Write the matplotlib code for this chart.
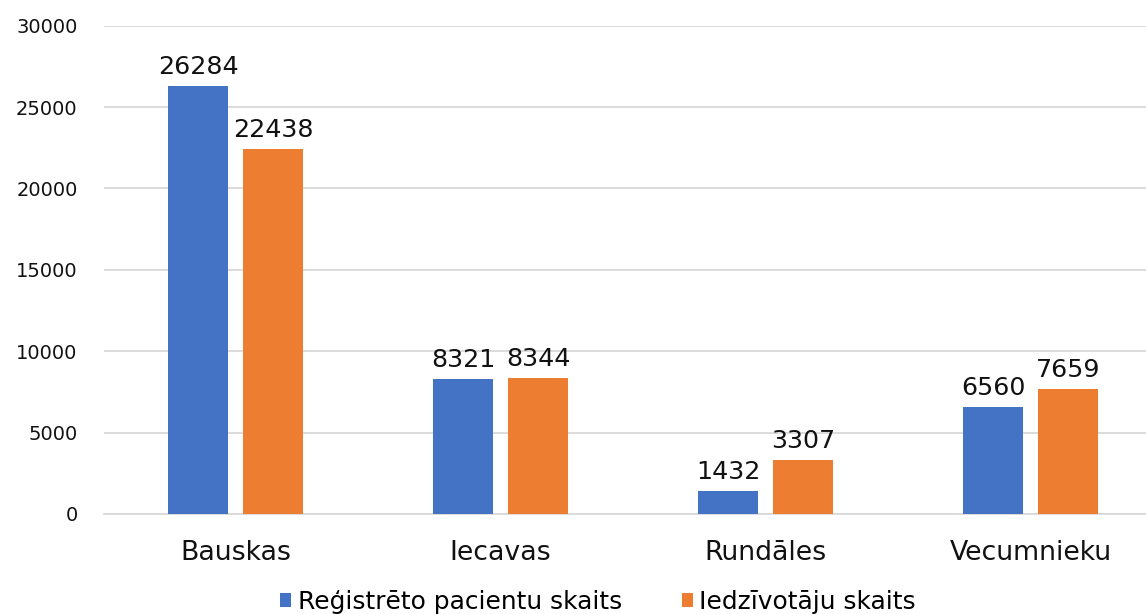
import matplotlib
matplotlib.use("Agg")
import matplotlib.pyplot as plt
import numpy as np

categories = ["Bauskas", "Iecavas", "Rundāles", "Vecumnieku"]
registered = [26284, 8321, 1432, 6560]
residents = [22438, 8344, 3307, 7659]
series_names = ["Reģistrēto pacientu skaits", "Iedzīvotāju skaits"]
yticks = [0, 5000, 10000, 15000, 20000, 25000, 30000]

plt.rcParams['font.family'] = ['DejaVu Sans']
fig = plt.figure(figsize=(11.46, 6.14), dpi=100)
ax = fig.add_axes([0.0908, 0.163, 0.9092, 0.795])

x = np.arange(len(categories))
w = 0.2264
off = 0.1415
b1 = ax.bar(x - off, registered, w, color='#4472C4', label=series_names[0], zorder=3)
b2 = ax.bar(x + off, residents, w, color='#ED7D31', label=series_names[1], zorder=3)
for bars, vals in ((b1, registered), (b2, residents)):
    for r, v in zip(bars, vals):
        ax.annotate(str(v), (r.get_x() + r.get_width() / 2, v), xytext=(0, 5),
                    textcoords='offset points', ha='center', va='bottom', fontsize=18.3, color='#111111')

ax.set_xlim(-0.5 + 1 / 265, -0.5 + 1043 / 265)
ax.set_ylim(0, 30000)
ax.set_yticks(yticks)
ax.set_yticklabels([str(t) for t in yticks], fontsize=14)
ax.set_xticks(x)
ax.set_xticklabels(categories, fontsize=19.3)
ax.tick_params(axis='both', length=0, colors='#111111')
ax.tick_params(axis='y', pad=19)
ax.tick_params(axis='x', pad=19)
ax.grid(axis='y', color='#D9D9D9', linewidth=1.3, zorder=0)
for s in ['top', 'right', 'left']:
    ax.spines[s].set_visible(False)
ax.spines['bottom'].set_color('#D9D9D9')
ax.spines['bottom'].set_linewidth(1.3)

fig.legend(handles=[b1, b2], labels=series_names, loc='lower center', bbox_to_anchor=(0.5217, -0.0365),
           ncol=2, frameon=False, fontsize=17.9, handlelength=0.45, handleheight=0.45,
           handletextpad=0.25, columnspacing=2.4)
fig.savefig('out.png', dpi=100)
